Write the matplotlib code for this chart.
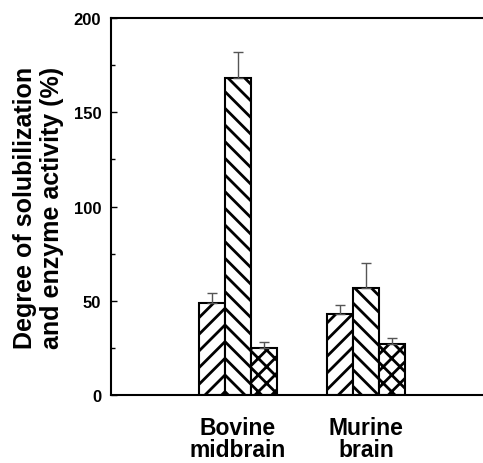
import matplotlib
matplotlib.use("Agg")
import matplotlib.pyplot as plt
from matplotlib.ticker import MultipleLocator
import numpy as np

plt.rcParams['font.family'] = ['Liberation Sans', 'DejaVu Sans']
plt.rcParams['hatch.linewidth'] = 2.0

groups = ["Bovine\nmidbrain", "Murine\nbrain"]
series_a = [49, 43]
series_b = [168, 57]
series_c = [25, 27]
err_a = [5, 5]
err_b = [14, 13]
err_c = [3, 3]

hatches = ["//", "\\\\", "xx"]

fig = plt.figure(figsize=(4.83, 4.64), dpi=100)
ax = fig.add_axes([111/483, 68/464, (483-111)/483, 377/464])

x = np.array([1.0, 2.0])
w = 0.203
for off, vals, errs, h in zip([-w, 0, w], [series_a, series_b, series_c],
                              [err_a, err_b, err_c], hatches):
    ax.bar(x + off, vals, width=w, facecolor='white', edgecolor='black',
           hatch=h, linewidth=1.5, zorder=2)
    ax.errorbar(x + off, vals, yerr=[[0]*len(vals), errs], fmt='none',
                ecolor='#555555', elinewidth=1.0, capsize=3.5, capthick=1.0, zorder=3)

ax.set_xlim(1 - 127/128, 2 + 117/128)
ax.set_ylim(0, 200)
ax.yaxis.set_major_locator(MultipleLocator(50))
ax.yaxis.set_minor_locator(MultipleLocator(25))
ax.tick_params(axis='y', which='major', direction='in', length=4, width=1,
               labelsize=12, pad=7)
ax.tick_params(axis='y', which='minor', direction='in', length=3, width=1)
for lbl in ax.get_yticklabels():
    lbl.set_fontweight('bold')
ax.set_xticks(x)
ax.set_xticklabels(groups, fontsize=16.5, fontweight='bold', linespacing=0.95)
ax.tick_params(axis='x', length=0, pad=15)
ax.spines['right'].set_visible(False)
for s in ['left', 'top', 'bottom']:
    ax.spines[s].set_linewidth(1.5)

ax.set_ylabel("Degree of solubilization\nand enzyme activity (%)", fontsize=18,
              fontweight='bold', linespacing=1.15, labelpad=7)

fig.savefig("out.png", dpi=100)
